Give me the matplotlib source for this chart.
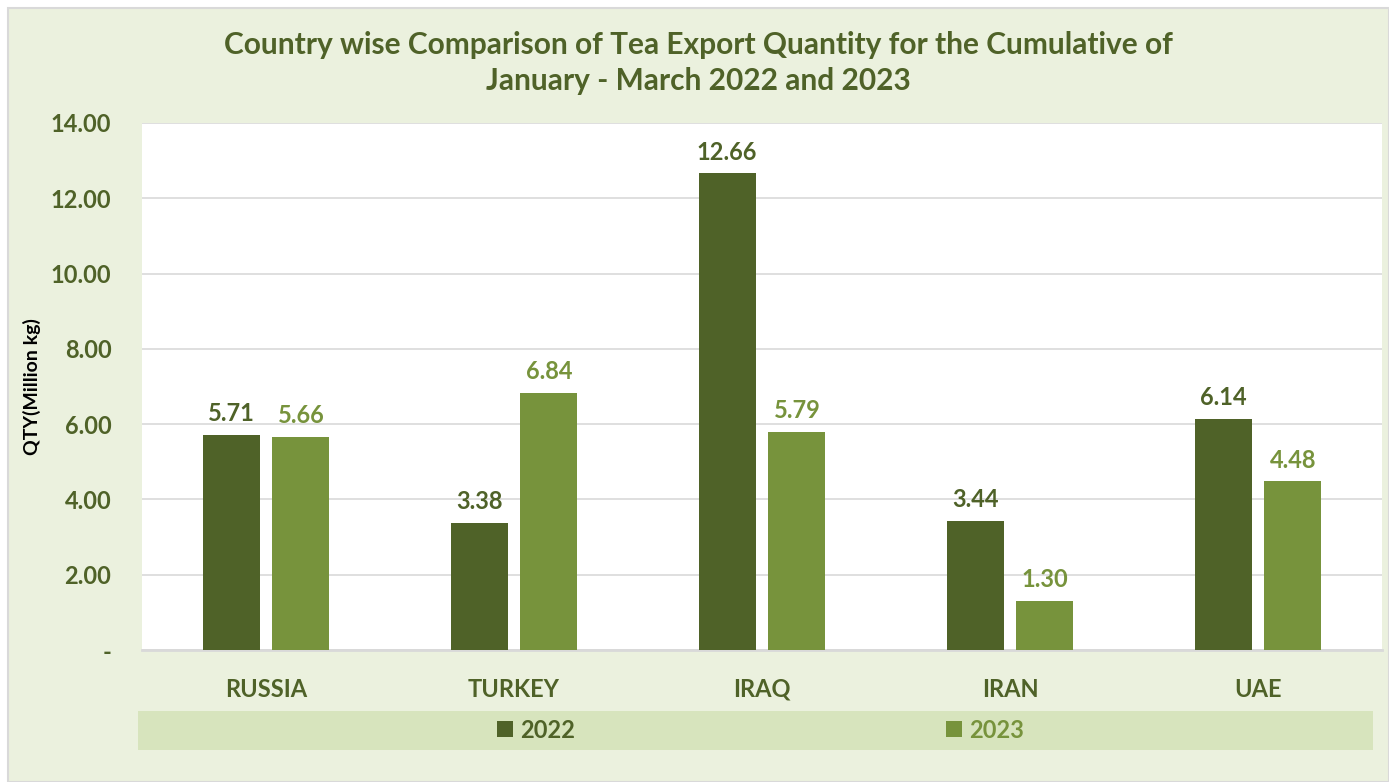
import matplotlib
matplotlib.use("Agg")
import matplotlib.pyplot as plt
import matplotlib.patches as mpatches
import numpy as np

# ── Data ─────────────────────────────────────────────
countries = ["RUSSIA", "TURKEY", "IRAQ", "IRAN", "UAE"]
qty_2022 = [5.71, 3.38, 12.66, 3.44, 6.14]
qty_2023 = [5.66, 6.84, 5.79, 1.30, 4.48]
yticks = [0, 2, 4, 6, 8, 10, 12, 14]
ytick_labels = ["-", "2.00", "4.00", "6.00", "8.00", "10.00", "12.00", "14.00"]

# ── Style ────────────────────────────────────────────
DARK = "#4F6228"
LIGHT = "#77933C"
BG = "#EBF1DE"
LEG_BG = "#D7E4BD"
GRID = "#D9D9D9"
plt.rcParams["font.family"] = ["Lato", "DejaVu Sans"]

W, H = 1389, 782
fig = plt.figure(figsize=(W / 100, H / 100), dpi=100)
fig.patch.set_facecolor("white")

# chart area background with thin border
fig.patches.append(mpatches.Rectangle((8 / W, 0), 1 - 8 / W, 1 - 8 / H,
                                      transform=fig.transFigure,
                                      facecolor=BG, edgecolor=GRID,
                                      linewidth=1.5, zorder=-2))
# legend strip
fig.patches.append(mpatches.Rectangle((138 / W, 1 - 750 / H), (1373 - 138) / W, 39 / H,
                                      transform=fig.transFigure,
                                      facecolor=LEG_BG, edgecolor="none", zorder=-1))

ax = fig.add_axes([142 / W, 1 - 650 / H, (1382 - 142) / W, (650 - 123) / H])
ax.set_facecolor("white")

x = np.arange(len(countries))
bw = 0.23
off = 0.141
b1 = ax.bar(x - off, qty_2022, bw, color=DARK, label="2022", zorder=3)
b2 = ax.bar(x + off, qty_2023, bw, color=LIGHT, label="2023", zorder=3)

for bars, col in [(b1, DARK), (b2, LIGHT)]:
    for bar in bars:
        ax.annotate(f"{bar.get_height():.2f}",
                    (bar.get_x() + bar.get_width() / 2, bar.get_height()),
                    xytext=(0, 7), textcoords="offset points",
                    ha="center", va="bottom", fontsize=17,
                    fontweight="bold", color=col, zorder=4)

ax.set_xlim(-0.5, len(countries) - 0.5)
ax.set_ylim(0, 14)
ax.set_yticks(yticks)
ax.set_yticklabels(ytick_labels)
ax.set_xticks(x)
ax.set_xticklabels(countries)
ax.tick_params(axis="y", length=0, pad=22, labelsize=17, labelcolor=DARK)
ax.tick_params(axis="x", length=0, pad=20, labelsize=17, labelcolor=DARK)
for lab in ax.get_xticklabels() + ax.get_yticklabels():
    lab.set_fontweight("bold")

ax.yaxis.grid(True, color=GRID, linewidth=1.2, zorder=0)
ax.set_axisbelow(True)
for s in ["top", "right", "left"]:
    ax.spines[s].set_visible(False)
ax.spines["bottom"].set_color(GRID)
ax.spines["bottom"].set_linewidth(2)

ax.set_ylabel("QTY(Million kg)", fontsize=14, fontweight="bold",
              color="black", labelpad=7)

fig.text(0.503, 1 - 45 / H, "Country wise Comparison of Tea Export Quantity for the Cumulative of",
         ha="center", va="center", fontsize=21.5, fontweight="bold", color=DARK)
fig.text(0.503, 1 - 81 / H, "January - March 2022 and 2023",
         ha="center", va="center", fontsize=21.5, fontweight="bold", color=DARK)

leg = fig.legend(handles=[b1, b2], labels=["2022", "2023"], loc="center",
                 bbox_to_anchor=(0.5475, 1 - 730 / H), ncol=2, frameon=False,
                 fontsize=17, handlelength=0.68, handleheight=0.68,
                 handletextpad=0.3, columnspacing=15.7)
for txt, col in zip(leg.get_texts(), [DARK, LIGHT]):
    txt.set_color(col)
    txt.set_fontweight("bold")

fig.savefig("out.png", dpi=100, facecolor=fig.get_facecolor())
